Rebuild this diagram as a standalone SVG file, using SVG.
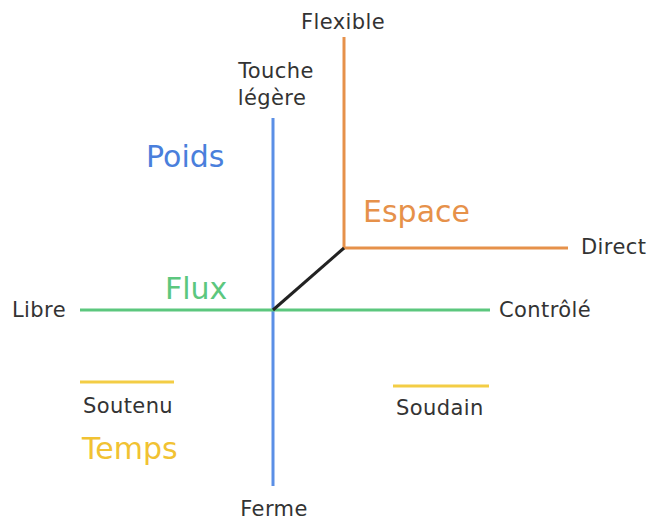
<svg xmlns="http://www.w3.org/2000/svg" width="649" height="522" viewBox="0 0 649 522">
<style>
.lbl{font-family:"DejaVu Sans",Verdana,sans-serif;font-size:21px;letter-spacing:0.4px;fill:#333}
.big{font-family:"DejaVu Sans",Verdana,sans-serif;font-size:30px}
line{stroke-width:3;fill:none}
</style>
<rect width="649" height="522" fill="#fff"/>
<g id="connectors">
<line x1="273" y1="118" x2="273" y2="486" stroke="#5b8fe6"/>
<line x1="80" y1="310" x2="490" y2="310" stroke="#5cc77e"/>
<line x1="344" y1="37" x2="344" y2="248" stroke="#e6914a"/>
<line x1="344" y1="248" x2="568" y2="248" stroke="#e6914a"/>
<line x1="273" y1="310" x2="344" y2="248" stroke="#222"/>
<line x1="80" y1="382" x2="174" y2="382" stroke="#f3cd45"/>
<line x1="393" y1="386" x2="489" y2="386" stroke="#f3cd45"/>
</g>
<g id="poids"><text class="big" x="146" y="167" fill="#4a7fdc">Poids</text></g>
<g id="espace"><text class="big" x="363" y="222" fill="#e6914a">Espace</text></g>
<g id="flux"><text class="big" x="165" y="299" fill="#5cc77e">Flux</text></g>
<g id="temps"><text class="big" x="82" y="459" fill="#f1c232">Temps</text></g>
<g id="flexible"><text class="lbl" x="343" y="29" text-anchor="middle">Flexible</text></g>
<g id="touche"><text class="lbl" x="276" y="78" text-anchor="middle">Touche</text><text class="lbl" x="272" y="105" text-anchor="middle">légère</text></g>
<g id="direct"><text class="lbl" x="581" y="254">Direct</text></g>
<g id="libre"><text class="lbl" x="12" y="317">Libre</text></g>
<g id="controle"><text class="lbl" x="499" y="317">Contrôlé</text></g>
<g id="soutenu"><text class="lbl" x="83" y="413">Soutenu</text></g>
<g id="soudain"><text class="lbl" x="396" y="415">Soudain</text></g>
<g id="ferme"><text class="lbl" x="274" y="516" text-anchor="middle">Ferme</text></g>
</svg>
